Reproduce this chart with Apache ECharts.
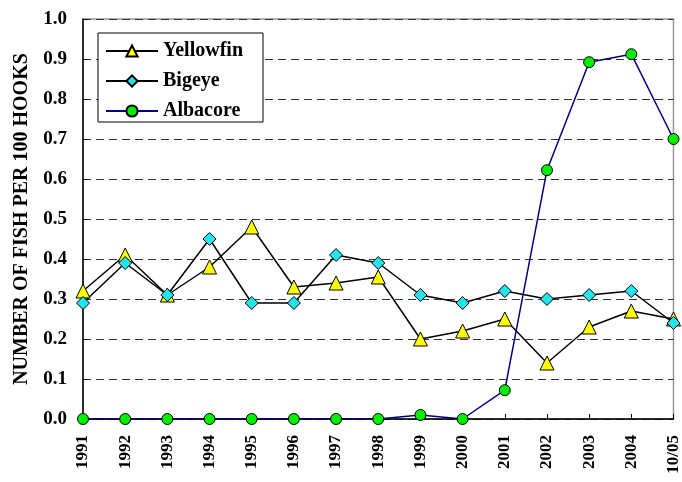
<!DOCTYPE html>
<html>
<head>
<meta charset="utf-8">
<script src="https://cdn.jsdelivr.net/npm/echarts@6/dist/echarts.min.js"></script>
<style>
  html, body { margin: 0; padding: 0; background: #fff; }
  #charts { width: 682px; height: 482px; }
</style>
</head>
<body>
<div id="charts"></div>
<script>
// catch rates
const years = ['1991', '1992', '1993', '1994', '1995', '1996', '1997', '1998', '1999', '2000', '2001', '2002', '2003', '2004', '10/05']
const yellowfin = [0.32, 0.41, 0.31, 0.38, 0.48, 0.33, 0.34, 0.355, 0.20, 0.22, 0.25, 0.14, 0.23, 0.27, 0.25]
const bigeye = [0.29, 0.39, 0.31, 0.45, 0.29, 0.29, 0.41, 0.39, 0.31, 0.29, 0.32, 0.30, 0.31, 0.32, 0.24]
const albacore = [0, 0, 0, 0, 0, 0, 0, 0, 0.01, 0, 0.072, 0.622, 0.892, 0.912, 0.70]

const serif = 'Liberation Serif'

const myCharts = echarts.init(document.getElementById('charts'))
myCharts.setOption({
    animation: false,
    textStyle: { fontFamily: serif },
    grid: {
        left: 83, right: 6, top: 19, bottom: 63,
        show: true, borderColor: '#999', borderWidth: 1.5
    },
    legend: {
        left: 98, top: 33,
        orient: 'vertical',
        itemWidth: 52, itemHeight: 14, itemGap: 10,
        padding: [8, 20, 1, 7],
        borderColor: '#000', borderWidth: 1,
        backgroundColor: '#fff',
        textStyle: { fontFamily: serif, fontWeight: 'bold', fontSize: 20, color: '#000' },
        data: ['Yellowfin', 'Bigeye', 'Albacore']
    },
    xAxis: {
        type: 'category',
        data: years,
        boundaryGap: false,
        axisLine: { lineStyle: { color: '#000', width: 1.5 } },
        axisTick: { inside: true, length: 5, lineStyle: { color: '#000' } },
        axisLabel: {
            rotate: 90, margin: 16, interval: 0,
            fontFamily: serif, fontWeight: 'bold', fontSize: 17, color: '#000'
        }
    },
    yAxis: {
        type: 'value',
        min: 0, max: 1, interval: 0.1,
        name: 'NUMBER OF FISH PER 100 HOOKS',
        nameLocation: 'middle', nameGap: 51,
        nameTextStyle: { fontFamily: serif, fontWeight: 'bold', fontSize: 20, color: '#000' },
        axisLine: { show: true, lineStyle: { color: '#000', width: 1.5 } },
        axisTick: { show: true, inside: true, length: 5, lineStyle: { color: '#000' } },
        axisLabel: {
            margin: 16,
            formatter: v => v.toFixed(1),
            fontFamily: serif, fontWeight: 'bold', fontSize: 19, color: '#000'
        },
        splitLine: { lineStyle: { color: '#333', type: [8, 5], width: 1 } }
    },
    series: [
        {
            name: 'Yellowfin', type: 'line', data: yellowfin,
            symbol: 'triangle', symbolSize: 14,
            lineStyle: { color: '#000', width: 1.5 },
            itemStyle: { color: '#ffff00', borderColor: '#000', borderWidth: 1 }
        },
        {
            name: 'Bigeye', type: 'line', data: bigeye,
            symbol: 'diamond', symbolSize: 13,
            lineStyle: { color: '#000', width: 1.5 },
            itemStyle: { color: '#22e5f0', borderColor: '#000', borderWidth: 1 }
        },
        {
            name: 'Albacore', type: 'line', data: albacore,
            symbol: 'circle', symbolSize: 11,
            lineStyle: { color: '#000080', width: 1.5 },
            itemStyle: { color: '#00ee00', borderColor: '#000', borderWidth: 1 },
            z: 3
        }
    ]
})
</script>
</body>
</html>
